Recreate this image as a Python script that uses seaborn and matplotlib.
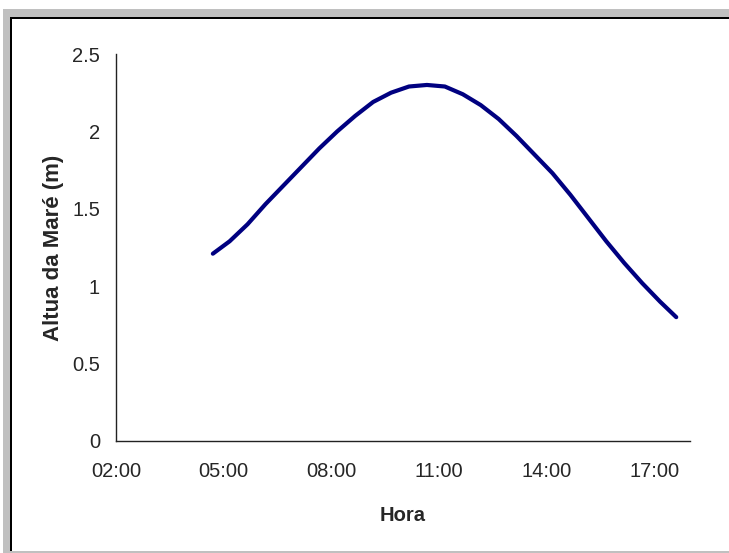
import matplotlib
matplotlib.use("Agg")
import matplotlib.pyplot as plt
import matplotlib.dates as mdates
from matplotlib.patches import Rectangle
import seaborn as sns
import pandas as pd

# ---- data ----
hours = ["04:42", "05:10", "05:40", "06:10", "06:40", "07:10", "07:40", "08:10",
         "08:40", "09:10", "09:40", "10:10", "10:40", "11:10", "11:40", "12:10",
         "12:40", "13:10", "13:40", "14:10", "14:40", "15:10", "15:40", "16:10",
         "16:40", "17:10", "17:37"]
heights = [1.21, 1.29, 1.40, 1.53, 1.65, 1.77, 1.89, 2.00,
           2.10, 2.19, 2.25, 2.29, 2.30, 2.29, 2.24, 2.17,
           2.08, 1.97, 1.85, 1.73, 1.59, 1.44, 1.29, 1.15,
           1.02, 0.90, 0.80]
x_ticks = ["02:00", "05:00", "08:00", "11:00", "14:00", "17:00"]
x_end = "18:00"
y_ticks = [0, 0.5, 1, 1.5, 2, 2.5]
y_ticklabels = ["0", "0.5", "1", "1.5", "2", "2.5"]
x_title = "Hora"
y_title = "Altua da Maré (m)"

day = "2000-01-01 "
df = pd.DataFrame({"Hora": pd.to_datetime([day + h for h in hours]),
                   "Altura": heights})

sns.set_style("white")
plt.rcParams["font.family"] = ["Liberation Sans", "DejaVu Sans"]

W, H = 729, 553
fig = plt.figure(figsize=(W / 100, H / 100), dpi=100, facecolor="white")

# Excel-like frame
def px_rect(x0, y0_img, x1, y1_img, color):
    r = Rectangle((x0 / W, 1 - y1_img / H), (x1 - x0) / W, (y1_img - y0_img) / H,
                  transform=fig.transFigure, facecolor=color, edgecolor="none",
                  zorder=-10)
    fig.add_artist(r)

px_rect(3, 9, W, H, "#c0c0c0")
px_rect(10, 17, W, 551, "#000000")
px_rect(12, 19, W, 551, "#ffffff")

left, right, top, bottom = 116, 690, 54, 441
ax = fig.add_axes([left / W, 1 - bottom / H, (right - left) / W, (bottom - top) / H])
ax.set_facecolor("none")

sns.lineplot(data=df, x="Hora", y="Altura", color="#000080", linewidth=3.0, ax=ax)

ax.set_xlim(pd.to_datetime(day + x_ticks[0]), pd.to_datetime(day + x_end))
ax.set_xticks(pd.to_datetime([day + t for t in x_ticks]))
ax.xaxis.set_major_formatter(mdates.DateFormatter("%H:%M"))
ax.set_ylim(0, 2.5)
ax.set_yticks(y_ticks)
ax.set_yticklabels(y_ticklabels)

for s in ["top", "right"]:
    ax.spines[s].set_visible(False)
for s in ["left", "bottom"]:
    ax.spines[s].set_color("#222222")
    ax.spines[s].set_linewidth(1.0)

ax.tick_params(axis="x", direction="out", length=4.6, width=1, color="#222222",
               labelsize=14.5, pad=10.5)
ax.tick_params(axis="y", direction="out", length=4.0, width=1, color="#222222",
               labelsize=14.5, pad=7.5)

ax.set_xlabel(x_title, fontsize=14.5, fontweight="bold")
ax.set_ylabel(y_title, fontsize=16, fontweight="bold")
ax.xaxis.set_label_coords(0.5, (441 - 506) / (bottom - top))
ax.yaxis.set_label_coords((64 - left) / (right - left), 0.5)

fig.savefig("out.png", dpi=100)
